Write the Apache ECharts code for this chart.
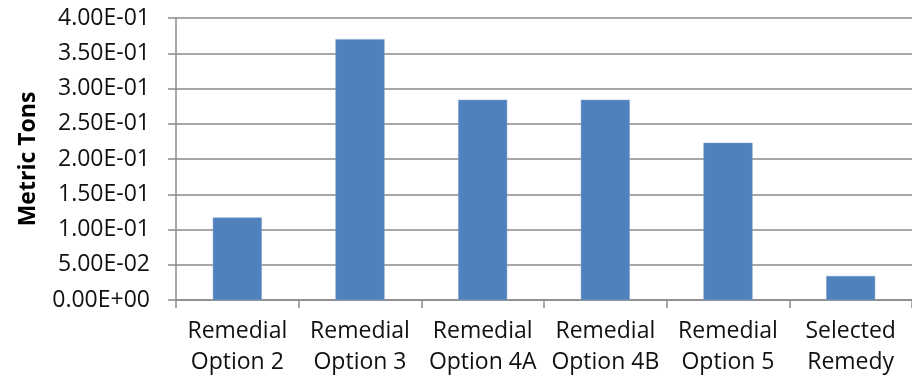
<!DOCTYPE html>
<html><head><meta charset="utf-8">
<script src="https://cdn.jsdelivr.net/npm/echarts@6/dist/echarts.min.js"></script>
<style>html,body{margin:0;padding:0;background:#fff}#c{width:912px;height:378px}</style>
</head><body><div id="c"></div>
<script>
const categories = ['Remedial\nOption 2','Remedial\nOption 3','Remedial\nOption 4A','Remedial\nOption 4B','Remedial\nOption 5','Selected\nRemedy'];
const values = [0.117, 0.370, 0.284, 0.284, 0.223, 0.034];
const yTicks = {min: 0, max: 0.4, interval: 0.05};
const yTitle = 'Metric Tons';

function sci(v){
  if (Math.abs(v) < 1e-12) return '0.00E+00';
  let e = Math.floor(Math.log10(Math.abs(v)) + 1e-9);
  let m = v / Math.pow(10, e);
  if (Math.round(m*100)/100 >= 10) { m /= 10; e += 1; }
  const sign = e < 0 ? '-' : '+';
  const ea = Math.abs(e);
  return m.toFixed(2) + 'E' + sign + (ea < 10 ? '0' + ea : '' + ea);
}

const FONT = '"Open Sans", sans-serif';
const GRID_COLOR = '#8a8a8a';
const chart = echarts.init(document.getElementById('c'), null, {renderer: 'canvas'});
chart.setOption({
  animation: false,
  grid: {left: 176, right: -5, top: 18, bottom: 77, containLabel: false},
  xAxis: {
    type: 'category',
    data: categories,
    axisLine: {lineStyle: {color: GRID_COLOR, width: 1.5}},
    axisTick: {show: true, length: 8, lineStyle: {color: GRID_COLOR, width: 1.5}},
    axisLabel: {color: '#111', fontSize: 23, lineHeight: 31, margin: 16, fontFamily: FONT, interval: 0}
  },
  yAxis: {
    type: 'value',
    min: yTicks.min, max: yTicks.max, interval: yTicks.interval,
    name: yTitle,
    nameLocation: 'middle',
    nameGap: 136,
    nameRotate: 90,
    nameTextStyle: {color: '#000', fontSize: 23, fontWeight: 'bold', fontFamily: FONT},
    axisLine: {show: true, lineStyle: {color: GRID_COLOR, width: 1.5}},
    axisTick: {show: true, length: 8, lineStyle: {color: GRID_COLOR, width: 1.5}},
    splitLine: {show: true, lineStyle: {color: GRID_COLOR, width: 1.5}},
    axisLabel: {color: '#111', fontSize: 23, margin: 26, fontFamily: FONT, formatter: sci}
  },
  series: [{
    type: 'bar',
    data: values,
    barWidth: '40%',
    itemStyle: {color: '#4F81BD', borderColor: '#7ea3d3', borderWidth: 0.5}
  }]
});
</script></body></html>
